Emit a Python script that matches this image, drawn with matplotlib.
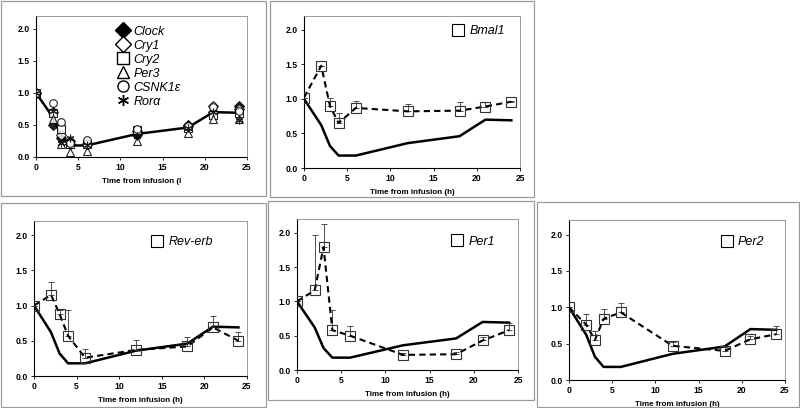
import matplotlib
matplotlib.use("Agg")
import matplotlib.pyplot as plt
from matplotlib.lines import Line2D
from matplotlib.patches import Rectangle

plt.rcParams['font.family'] = ['Liberation Sans', 'DejaVu Sans']

# --- Data ---
hours = [0, 2, 3, 4, 6, 12, 18, 21, 24]

# reference curve (solid line, same in every panel)
ref_mean = [1.0, 0.62, 0.32, 0.18, 0.18, 0.36, 0.46, 0.70, 0.69]

# panel 1 genes
clock = [1.0, 0.50, 0.30, 0.20, 0.20, 0.35, 0.50, 0.70, 0.80]
cry1 = [1.0, 0.70, 0.35, 0.25, 0.20, 0.40, 0.48, 0.80, 0.75]
cry2 = [1.0, 0.68, 0.44, 0.20, 0.20, 0.42, 0.45, 0.65, 0.68]
per3 = [1.0, 0.60, 0.20, 0.08, 0.10, 0.25, 0.38, 0.60, 0.60]
csnk1e = [1.0, 0.84, 0.55, 0.22, 0.26, 0.44, 0.48, 0.78, 0.72]
rora = [1.0, 0.72, 0.22, 0.30, 0.18, 0.33, 0.45, 0.70, 0.58]

# single-gene panels: mean and upper error bar
bmal1 = [1.02, 1.48, 0.90, 0.65, 0.87, 0.82, 0.83, 0.89, 0.96]
bmal1_err = [0.0, 0.0, 0.12, 0.15, 0.10, 0.11, 0.13, 0.06, 0.01]
reverb = [1.0, 1.15, 0.88, 0.57, 0.26, 0.37, 0.42, 0.69, 0.50]
reverb_err = [0.0, 0.19, 0.06, 0.36, 0.13, 0.14, 0.13, 0.16, 0.12]
per1 = [1.0, 1.16, 1.79, 0.58, 0.50, 0.22, 0.23, 0.43, 0.58]
per1_err = [0.0, 0.80, 0.34, 0.30, 0.14, 0.03, 0.03, 0.05, 0.10]
per2 = [1.0, 0.76, 0.55, 0.84, 0.93, 0.47, 0.40, 0.56, 0.63]
per2_err = [0.0, 0.15, 0.12, 0.13, 0.13, 0.05, 0.05, 0.04, 0.11]

XLIM = (0, 25)
YLIM = (0, 2.2)

fig = plt.figure(figsize=(8, 4.08), dpi=100)

# outer panel boxes (figure pixels: x0, y0 from top, x1, y1)
boxes = [(1, 1, 266, 196), (270, 1, 534, 197),
         (1, 203, 266, 407), (268, 201, 534, 400), (537, 202, 799, 407)]
for x0, y0, x1, y1 in boxes:
    fig.patches.append(Rectangle((x0 / 800, 1 - y1 / 408), (x1 - x0) / 800, (y1 - y0) / 408,
                                 transform=fig.transFigure, fill=False,
                                 edgecolor="#9a9a9a", linewidth=0.9))


def make_axes(left, right, top, bottom, xlabel):
    ax = fig.add_axes([left / 800, 1 - bottom / 408, (right - left) / 800, (bottom - top) / 408])
    ax.set_xlim(*XLIM)
    ax.set_ylim(*YLIM)
    ax.set_xticks([0, 5, 10, 15, 20, 25])
    ax.set_yticks([0.0, 0.5, 1.0, 1.5, 2.0])
    ax.set_yticklabels([f"{v:.1f}" for v in [0.0, 0.5, 1.0, 1.5, 2.0]])
    ax.tick_params(labelsize=6.2, length=2.5, width=0.6, pad=2)
    for lbl in ax.get_xticklabels() + ax.get_yticklabels():
        lbl.set_fontweight("bold")
    for s in ["top", "right"]:
        ax.spines[s].set_color("#8a8a8a")
        ax.spines[s].set_linewidth(0.6)
    for s in ["left", "bottom"]:
        ax.spines[s].set_linewidth(0.8)
    ax.set_xlabel(xlabel, fontsize=5.8, fontweight="bold", labelpad=4)
    ax.plot(hours, ref_mean, color="black", linewidth=1.8, zorder=2)
    return ax


# --- Panel 1: all genes ---
ax1 = make_axes(36, 247, 16, 157, "Time from infusion (l")
markers = [
    ("Clock", clock, dict(marker="D", mfc="black", mec="black")),
    ("Cry1", cry1, dict(marker="D", mfc="white", mec="black")),
    ("Cry2", cry2, dict(marker="s", mfc="white", mec="black")),
    ("Per3", per3, dict(marker="^", mfc="white", mec="black")),
    ("CSNK1ε", csnk1e, dict(marker="o", mfc="white", mec="black")),
    ("Rorα", rora, dict(marker=(6, 2, 0), mfc="black", mec="black")),
]
handles = []
for name, vals, st in markers:
    ax1.plot(hours, vals, linestyle="none", markersize=5.5, markeredgewidth=0.8,
             alpha=0.85, zorder=3, **st)
    handles.append(Line2D([], [], linestyle="none", markersize=8, markeredgewidth=1.0,
                          label=name, **st))
ax1.legend(handles=handles, loc="upper left", bbox_to_anchor=(0.385, 0.93), frameon=False,
           prop=dict(size=9, style="italic"), handletextpad=0.3, labelspacing=0.16,
           handlelength=1.0, borderaxespad=0, borderpad=0)

# --- Single-gene panels: (axes px box), name, values, error, legend anchor ---
panels = [
    ((304, 520, 16, 168), "Bmal1", bmal1, bmal1_err, (0.93, 0.90)),
    ((34, 247, 221, 376), "Rev-erb", reverb, reverb_err, (0.84, 0.865)),
    ((297, 518, 219, 370), "Per1", per1, per1_err, (0.895, 0.85)),
    ((569, 785, 220, 380), "Per2", per2, per2_err, (0.905, 0.86)),
]
for (l, r, t, b), name, vals, err, anchor in panels:
    ax = make_axes(l, r, t, b, "Time from infusion (h)")
    ax.errorbar(hours, vals, yerr=[[0] * len(err), err], fmt="none", ecolor="#333333",
                elinewidth=0.6, capsize=2, capthick=0.6, zorder=3)
    ax.plot(hours, vals, color="black", linestyle=(0, (3, 2)), linewidth=1.5,
            marker="s", markersize=6.5, mfc="none", mec="#333333", markeredgewidth=0.8,
            zorder=4)
    h = Line2D([], [], linestyle="none", marker="s", markersize=8, mfc="white",
               mec="black", markeredgewidth=0.8, label=name)
    ax.legend(handles=[h], loc="center right", bbox_to_anchor=anchor, frameon=False,
              prop=dict(size=9, style="italic"), handletextpad=0.4, handlelength=1.0,
              borderaxespad=0, borderpad=0)

fig.savefig("out.png", dpi=100)
